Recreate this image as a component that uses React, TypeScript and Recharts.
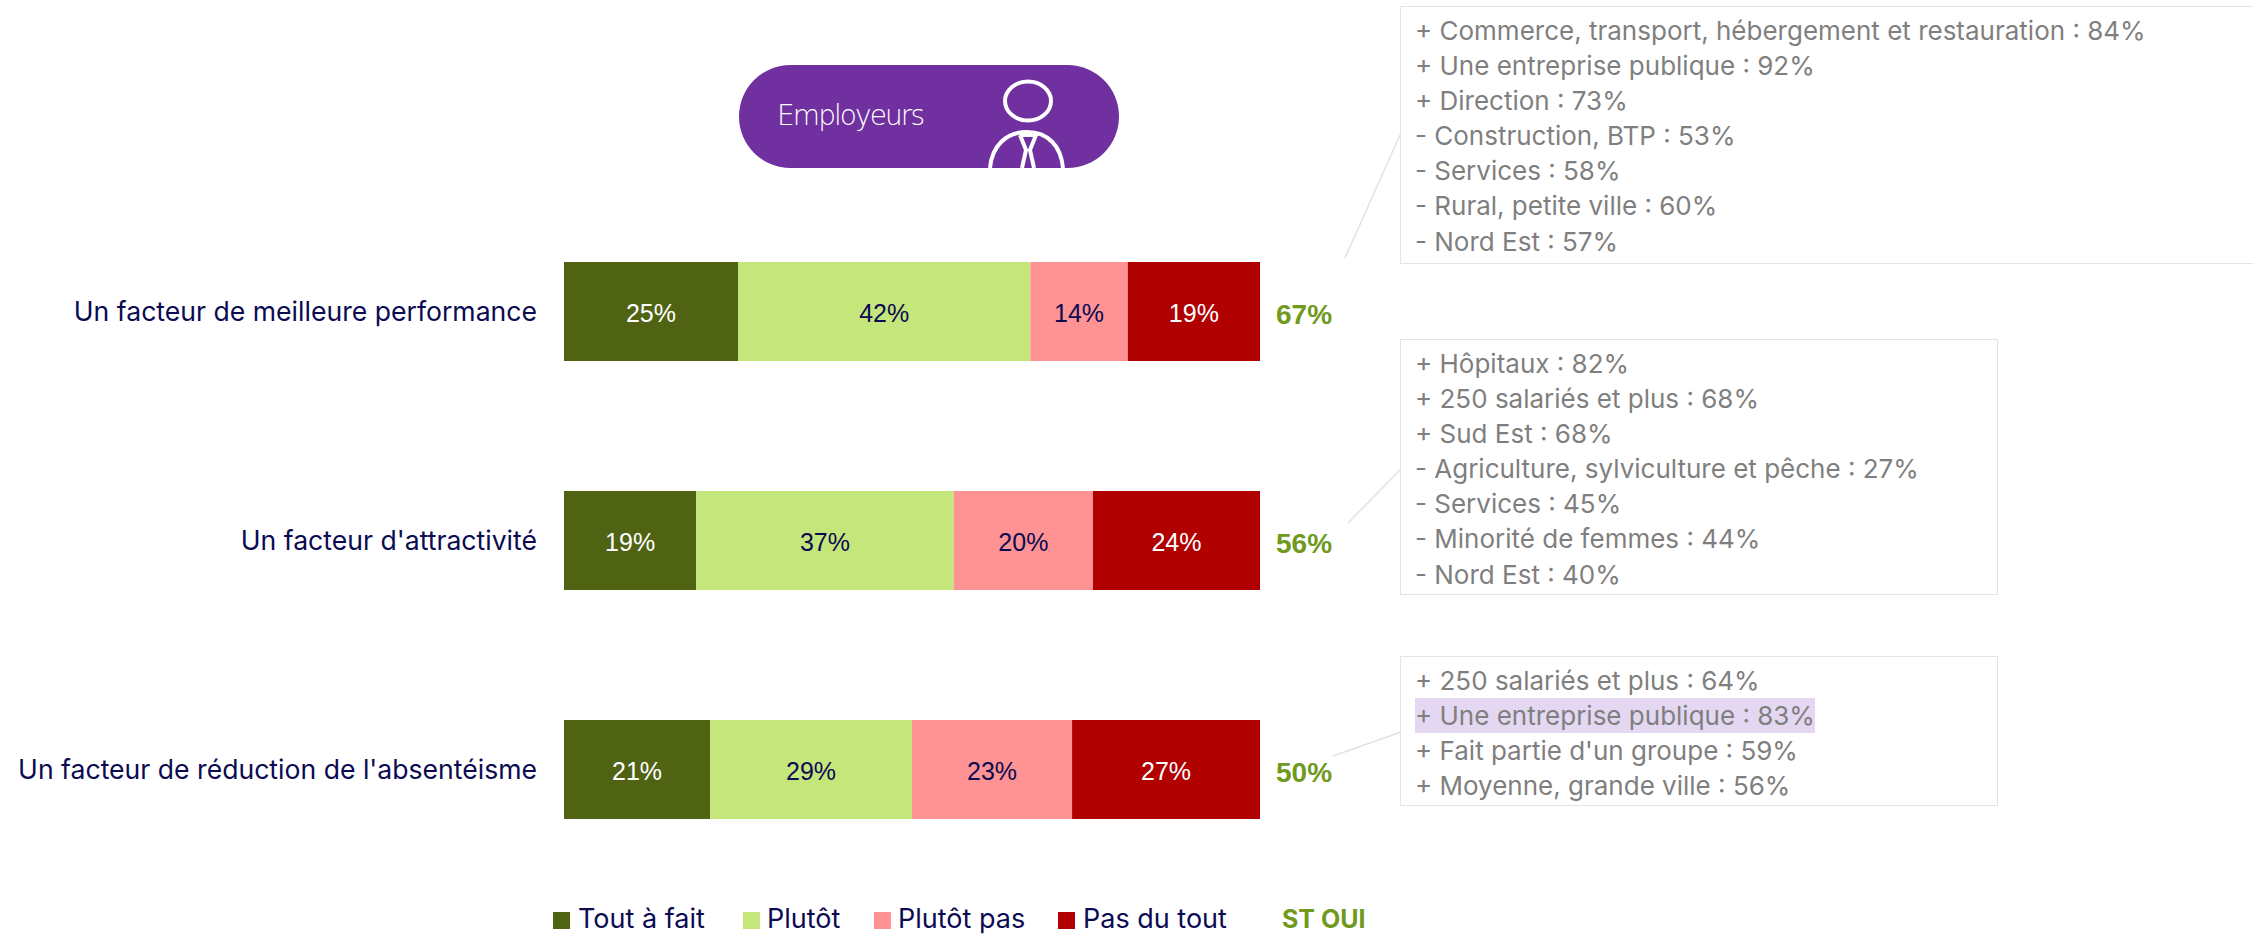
import React from 'react';
import { BarChart, Bar, XAxis, YAxis, LabelList, Legend } from 'recharts';

const categories = [
  'Un facteur de meilleure performance',
  "Un facteur d'attractivité",
  "Un facteur de réduction de l'absentéisme",
];
const toutAFait = [25, 19, 21];
const plutot = [42, 37, 29];
const plutotPas = [14, 20, 23];
const pasDuTout = [19, 24, 27];
const stOui = [67, 56, 50];

const calloutPerformance = [
  '+ Commerce, transport, hébergement et restauration : 84%',
  '+ Une entreprise publique : 92%',
  '+ Direction : 73%',
  '- Construction, BTP : 53%',
  '- Services : 58%',
  '- Rural, petite ville : 60%',
  '- Nord Est : 57%',
];
const calloutAttractivite = [
  '+ Hôpitaux : 82%',
  '+ 250 salariés et plus : 68%',
  '+ Sud Est : 68%',
  '- Agriculture, sylviculture et pêche : 27%',
  '- Services : 45%',
  '- Minorité de femmes : 44%',
  '- Nord Est : 40%',
];
const calloutAbsenteisme = [
  '+ 250 salariés et plus : 64%',
  '+ Une entreprise publique : 83%',
  "+ Fait partie d'un groupe : 59%",
  '+ Moyenne, grande ville : 56%',
];

const data = categories.map((name, i) => ({
  name,
  toutAFait: toutAFait[i],
  plutot: plutot[i],
  plutotPas: plutotPas[i],
  pasDuTout: pasDuTout[i],
  stOui: stOui[i],
}));

const NAVY = '#0b0b52';
const GREEN = '#6f9a1e';
const FONT = 'Inter, sans-serif';
const ARIAL = "'Liberation Sans', sans-serif";
const pct = (v: any) => `${v}%`;

const legendItems = [
  { label: 'Tout à fait', color: '#4f6313', swatch: 553, text: 578 },
  { label: 'Plutôt', color: '#c5e67b', swatch: 743, text: 767 },
  { label: 'Plutôt pas', color: '#ff9393', swatch: 874, text: 898 },
  { label: 'Pas du tout', color: '#b00000', swatch: 1058, text: 1083 },
];

// text sits a little high so its line box stays inside the 936px page
const ChartLegend = () => (
  <div style={{ position: 'relative', width: 2253, height: 24, fontFamily: FONT, fontSize: 27, color: NAVY }}>
    {legendItems.map(it => (
      <React.Fragment key={it.label}>
        <div style={{ position: 'absolute', left: it.swatch, top: 5, width: 17, height: 17, background: it.color }} />
        <div style={{ position: 'absolute', left: it.text, top: 0, lineHeight: '24px', whiteSpace: 'nowrap' }}>{it.label}</div>
      </React.Fragment>
    ))}
    <div style={{ position: 'absolute', left: 1282, top: 0, lineHeight: '24px', fontSize: 25, fontWeight: 700, color: GREEN, whiteSpace: 'nowrap' }}>ST OUI</div>
  </div>
);

const Callout = ({ lines, left, top, width, height, mark }: any) => (
  <div
    style={{
      position: 'absolute', left, top, width, height, boxSizing: 'border-box',
      border: '1.5px solid #e4e4e4', paddingLeft: 14, paddingTop: 6,
      fontFamily: FONT, fontSize: 26, lineHeight: '35.1px', color: '#7f7f7f', whiteSpace: 'nowrap',
    }}
  >
    {lines.map((l: string, i: number) => (
      <div key={l}>
        <span style={{ background: i === mark ? '#e4d7f1' : 'none', display: 'inline-block' }}>{l}</span>
      </div>
    ))}
  </div>
);

const Badge = () => (
  <svg width={2253} height={936} style={{ position: 'absolute', left: 0, top: 0, pointerEvents: 'none' }}>
    <rect x={739} y={65} width={380} height={103} rx={51.5} fill="#7030a0" />
    <text x={777} y={125} fill="#fff" fontSize={28} fontFamily="'DejaVu Sans', sans-serif" fontWeight={300} textLength={148}>
      Employeurs
    </text>
    <g fill="none" stroke="#fff" strokeWidth={4}>
      <ellipse cx={1028} cy={101} rx={23} ry={19.5} />
      <path d="M990 168 C992 146 1006 132 1027 132 C1048 132 1061 146 1063 168" />
      <path d="M1020 135 L1036 135 L1030 150 L1034 168 M1020 135 L1026 150 L1022 168" />
    </g>
    {/* traits de rappel vers les encadrés */}
    <g stroke="#e2e2e2" strokeWidth={1.5}>
      <line x1={1345} y1={258} x2={1400} y2={135} />
      <line x1={1348} y1={523} x2={1400} y2={470} />
      <line x1={1333} y1={756} x2={1401} y2={732} />
    </g>
  </svg>
);

const App: React.FC = () => {
  return (
    <div style={{ position: 'absolute', left: 0, top: 0, width: 2253, height: 936, overflow: 'hidden', background: '#fff' }}>
      <BarChart
        width={2253}
        height={936}
        data={data}
        layout="vertical"
        barCategoryGap={65}
        margin={{ top: 197, right: 993, bottom: 28, left: 0 }}
      >
        <XAxis type="number" domain={[0, 100]} hide />
        <YAxis
          type="category"
          dataKey="name"
          width={564}
          axisLine={false}
          tickLine={false}
          tickSize={0}
          tickMargin={27}
          interval={0}
          tick={{ fill: NAVY, fontSize: 26.6, fontFamily: FONT }}
        />
        <Legend
          verticalAlign="bottom"
          content={() => <ChartLegend />}
          wrapperStyle={{ left: 0, top: 907, width: 2253 }}
        />
        <Bar dataKey="toutAFait" stackId="a" fill="#4f6313" isAnimationActive={false}>
          <LabelList dataKey="toutAFait" position="center" formatter={pct} fill="#fff" fontSize={25} fontFamily={ARIAL} dy={2} />
        </Bar>
        <Bar dataKey="plutot" stackId="a" fill="#c5e67b" isAnimationActive={false}>
          <LabelList dataKey="plutot" position="center" formatter={pct} fill={NAVY} fontSize={25} fontFamily={ARIAL} dy={2} />
        </Bar>
        <Bar dataKey="plutotPas" stackId="a" fill="#ff9393" isAnimationActive={false}>
          <LabelList dataKey="plutotPas" position="center" formatter={pct} fill={NAVY} fontSize={25} fontFamily={ARIAL} dy={2} />
        </Bar>
        <Bar dataKey="pasDuTout" stackId="a" fill="#b00000" isAnimationActive={false}>
          <LabelList dataKey="pasDuTout" position="center" formatter={pct} fill="#fff" fontSize={25} fontFamily={ARIAL} dy={2} />
          <LabelList dataKey="stOui" position="right" offset={16} formatter={pct} fill={GREEN} fontSize={28} fontWeight={700} fontFamily={ARIAL} dy={3} />
        </Bar>
      </BarChart>
      <Badge />
      <Callout lines={calloutPerformance} left={1400} top={6} width={860} height={258} />
      <Callout lines={calloutAttractivite} left={1400} top={339} width={598} height={256} />
      <Callout lines={calloutAbsenteisme} left={1400} top={656} width={598} height={150} mark={1} />
    </div>
  );
};

export default App;
